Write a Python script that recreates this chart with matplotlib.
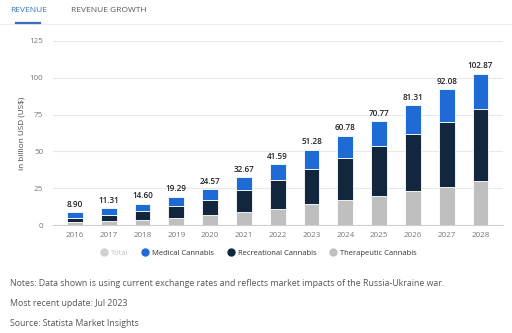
import matplotlib.pyplot as plt
from matplotlib.lines import Line2D
import numpy as np

plt.rcParams['font.family'] = ['Open Sans', 'DejaVu Sans']

years = ['2016', '2017', '2018', '2019', '2020', '2021', '2022',
         '2023', '2024', '2025', '2026', '2027', '2028']
totals = [8.90, 11.31, 14.60, 19.29, 24.57, 32.67, 41.59,
          51.28, 60.78, 70.77, 81.31, 92.08, 102.87]
therapeutic = [1.8, 2.5, 3.2, 5.0, 6.6, 8.6, 11.2, 14.3, 17.2, 19.9, 22.9, 26.1, 29.7]
recreational = [3.0, 4.1, 6.6, 7.9, 10.4, 15.0, 19.4, 24.0, 28.2, 33.6, 38.8, 44.2, 49.0]
medical = [t - a - b for t, a, b in zip(totals, therapeutic, recreational)]

c_blue = '#1f6bd6'
c_navy = '#12263e'
c_gray = '#bfbfbf'

fig = plt.figure(figsize=(5.12, 3.33), dpi=100)
ax = fig.add_axes([0.1035, 0.324, 0.8785, 0.553])

x = np.arange(len(years))
w = 0.47
ax.bar(x, therapeutic, w, color=c_gray, edgecolor='white', linewidth=0.6)
ax.bar(x, recreational, w, bottom=therapeutic, color=c_navy, edgecolor='white', linewidth=0.6)
bottom2 = [a + b for a, b in zip(therapeutic, recreational)]
ax.bar(x, medical, w, bottom=bottom2, color=c_blue, edgecolor='white', linewidth=0.6)

for xi, t in zip(x, totals):
    ax.text(xi, t + 2.2, f'{t:.2f}', ha='center', va='bottom', fontsize=5.9,
            color='#222222', fontweight='semibold')

ax.set_xlim(-0.65, 12.66)
ax.set_ylim(0, 125)
ax.set_yticks([0, 25, 50, 75, 100, 125])
ax.set_xticks(x)
ax.set_xticklabels(years)
ax.tick_params(axis='both', length=0, labelsize=5.8, colors='#777777')
ax.tick_params(axis='y', pad=7)
ax.tick_params(axis='x', pad=5)
ax.grid(axis='y', color='#e8e8e8', linewidth=0.8)
ax.set_axisbelow(True)
for s in ['top', 'right', 'left']:
    ax.spines[s].set_visible(False)
ax.spines['bottom'].set_color('#cfcfcf')
ax.set_ylabel('in billion USD (US$)', fontsize=5.9, color='#444444')
ax.yaxis.set_label_coords(-0.062, 0.5)

handles = [
    Line2D([], [], marker='o', linestyle='', color='#d0d0d0', markersize=5),
    Line2D([], [], marker='o', linestyle='', color=c_blue, markersize=5),
    Line2D([], [], marker='o', linestyle='', color=c_navy, markersize=5),
    Line2D([], [], marker='o', linestyle='', color=c_gray, markersize=5),
]
labels = ['Total', 'Medical Cannabis', 'Recreational Cannabis', 'Therapeutic Cannabis']
leg = fig.legend(handles, labels, loc='center', bbox_to_anchor=(0.506, 0.24), ncol=4,
                 frameon=False, fontsize=5.5, handletextpad=0.5, columnspacing=1.8,
                 handlelength=0.8)
for txt, col in zip(leg.get_texts(), ['#c0c0c0', '#333333', '#333333', '#333333']):
    txt.set_color(col)

# tabs
fig.text(10 / 512, 1 - 11 / 333, 'REVENUE', fontsize=6.0, color='#3a6fc4', va='center')
fig.text(71 / 512, 1 - 11 / 333, 'REVENUE GROWTH', fontsize=6.0, color='#555555', va='center')
fig.add_artist(Line2D([0, 1], [1 - 24 / 333] * 2, color='#eeeeee', linewidth=0.8))
fig.add_artist(Line2D([16 / 512, 40 / 512], [1 - 23 / 333] * 2, color='#3a6fc4', linewidth=1.6))

notes = ['Notes: Data shown is using current exchange rates and reflects market impacts of the Russia-Ukraine war.',
         'Most recent update: Jul 2023',
         'Source: Statista Market Insights']
for yy, n in zip([284, 304, 324], notes):
    fig.text(10 / 512, 1 - yy / 333, n, fontsize=6.3, color='#555555', va='center')

plt.savefig('out.png', dpi=100)
